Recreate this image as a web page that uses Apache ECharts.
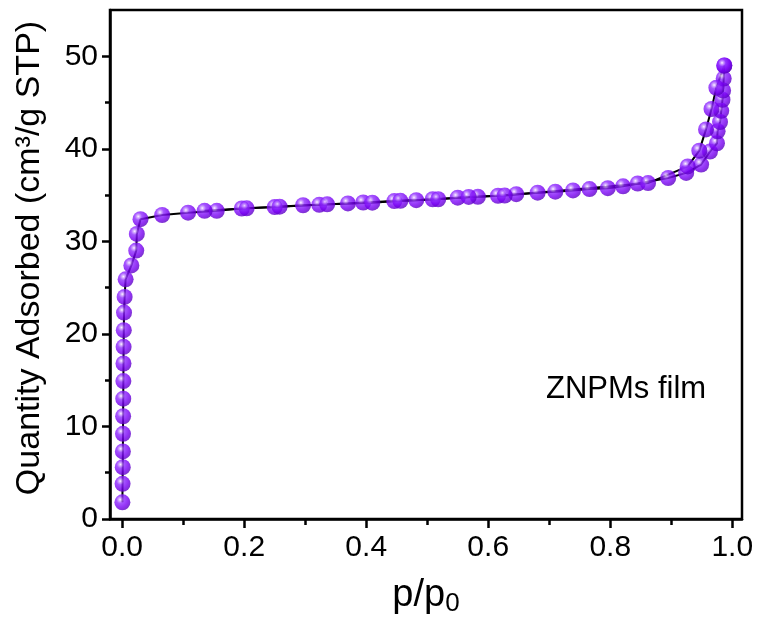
<!DOCTYPE html>
<html>
<head>
<meta charset="utf-8">
<script src="https://cdn.jsdelivr.net/npm/echarts@6/dist/echarts.min.js"></script>
<style>
html,body{margin:0;padding:0;background:#fff;}
#c{width:758px;height:623px;}
</style>
</head>
<body>
<div id="c"></div>
<script>
// ---- data ----
var adsP = [0.0003,0.0006,0.0009,0.0011,0.0013,0.0015,0.0017,0.0019,0.0021,0.0023,0.0026,0.003,0.004,0.0056,0.015,0.023,0.024,0.030,0.0655,0.108,0.155,0.196,0.250,0.2965,0.323,0.370,0.395,0.446,0.482,0.509,0.550,0.583,0.616,0.646,0.681,0.710,0.739,0.766,0.796,0.821,0.845,0.895,0.9245,0.949,0.9635,0.975,0.976,0.980,0.982,0.984,0.985,0.986,0.987];
var adsQ = [1.8,3.8,5.6,7.3,9.2,11.1,13.0,14.9,16.8,18.6,20.4,22.3,24.0,25.9,27.4,29.0,30.8,32.4,32.85,33.1,33.3,33.55,33.7,33.9,33.95,34.1,34.2,34.35,34.45,34.55,34.72,34.82,34.93,35.1,35.26,35.37,35.5,35.65,35.75,35.95,36.25,36.85,37.4,38.3,39.7,40.6,41.9,42.9,44.1,45.3,46.3,47.6,49.0];
var desP = [0.987,0.974,0.966,0.957,0.946,0.927,0.862,0.627,0.568,0.518,0.456,0.410,0.336,0.258,0.204,0.135];
var desQ = [49.0,46.6,44.3,42.1,39.8,38.1,36.3,34.95,34.8,34.55,34.38,34.18,34.0,33.75,33.57,33.3];
var xMajor = [0, 0.2, 0.4, 0.6, 0.8, 1.0];
var xMinor = [0.1, 0.3, 0.5, 0.7, 0.9];
var yMajor = [0, 10, 20, 30, 40, 50];
var yMinor = [5, 15, 25, 35, 45];
var xTitle = 'p/p';
var xTitleSub = '0';
var yTitle = 'Quantity Adsorbed (cm\u00B3/g STP)';
var annotation = 'ZNPMs film';

function pairs(xs, ys){ return xs.map(function(x,i){ return [x, ys[i]]; }); }

var FONT = '"Liberation Sans", Arial, sans-serif';
var sphere = {
  type: 'radial', x: 0.36, y: 0.33, r: 0.72,
  colorStops: [
    {offset: 0, color: '#fbf4ff'},
    {offset: 0.12, color: '#cc9cff'},
    {offset: 0.32, color: '#8f2cff'},
    {offset: 0.68, color: '#7800f2'},
    {offset: 1, color: '#5800bc'}
  ]
};

var chart = echarts.init(document.getElementById('c'), null, {renderer: 'canvas'});
var XMIN = -0.02, XMAX = 1.016, YMIN = 0, YMAX = 55;
var axisLineStyle = {color: '#000', width: 2.5};
var hiddenLine = {show: true, onZero: false, lineStyle: {color: 'rgba(0,0,0,0)', width: 0}};
chart.setOption({
  animation: false,
  backgroundColor: '#fff',
  grid: {left: 110, top: 10, right: 16, bottom: 104, show: true, borderColor: '#000', borderWidth: 2.5, backgroundColor: 'transparent'},
  xAxis: [{
    type: 'value', min: XMIN, max: XMAX, position: 'bottom',
    axisLine: {show: true, onZero: false, lineStyle: axisLineStyle},
    axisTick: {show: true, inside: false, length: 9, lineStyle: axisLineStyle, customValues: xMajor},
    axisLabel: {show: true, customValues: xMajor, margin: 14, color: '#000', fontSize: 30, fontFamily: FONT,
      formatter: function(v){ return v.toFixed(1); }},
    splitLine: {show: false},
    name: '{a|' + xTitle + '}{b|' + xTitleSub + '}', nameLocation: 'middle', nameGap: 56,
    nameTextStyle: {rich: {
      a: {fontSize: 38, fontFamily: FONT, color: '#000'},
      b: {fontSize: 26, fontFamily: FONT, color: '#000', padding: [16, 0, 0, 0]}
    }}
  }, {
    type: 'value', min: XMIN, max: XMAX, position: 'bottom', offset: 0,
    axisLine: hiddenLine,
    axisTick: {show: true, length: 6, lineStyle: {color: '#000', width: 2.5}, customValues: xMinor},
    axisLabel: {show: false}, splitLine: {show: false}
  }],
  yAxis: [{
    type: 'value', min: YMIN, max: YMAX, position: 'left',
    axisLine: {show: true, onZero: false, lineStyle: axisLineStyle},
    axisTick: {show: true, length: 8, lineStyle: axisLineStyle, customValues: yMajor},
    axisLabel: {show: true, customValues: yMajor, margin: 12, color: '#000', fontSize: 30, fontFamily: FONT},
    splitLine: {show: false}
  }, {
    type: 'value', min: YMIN, max: YMAX, position: 'left', offset: 0,
    axisLine: hiddenLine,
    axisTick: {show: true, length: 5, lineStyle: {color: '#000', width: 2.5}, customValues: yMinor},
    axisLabel: {show: false}, splitLine: {show: false}
  }],
  graphic: [{
    type: 'text', x: 30, y: 258, rotation: Math.PI / 2,
    style: {text: yTitle, fontSize: 34, fontFamily: FONT, fill: '#000', align: 'center', verticalAlign: 'middle'}
  }, {
    type: 'text', left: 546, top: 374,
    style: {text: annotation, fontSize: 31, fontFamily: FONT, fill: '#000'}
  }],
  series: [
    {type: 'line', data: pairs(adsP, adsQ), symbol: 'none', lineStyle: {color: '#000', width: 2}, z: 2},
    {type: 'line', data: pairs(desP, desQ), symbol: 'none', lineStyle: {color: '#000', width: 2}, z: 2},
    {type: 'scatter', data: pairs(adsP, adsQ), symbolSize: 16, itemStyle: {color: sphere}, z: 3},
    {type: 'scatter', data: pairs(desP, desQ), symbolSize: 16, itemStyle: {color: sphere}, z: 3}
  ]
});
</script>
</body>
</html>
